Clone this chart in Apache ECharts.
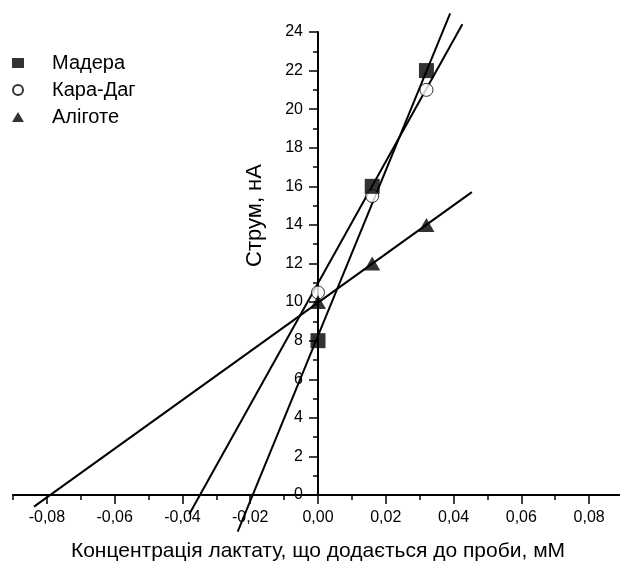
<!DOCTYPE html>
<html>
<head>
<meta charset="utf-8">
<script src="https://cdn.jsdelivr.net/npm/echarts@6/dist/echarts.min.js"></script>
<style>
  html, body { margin: 0; padding: 0; background: #fff; }
  #chart { width: 620px; height: 562px; }
</style>
</head>
<body>
<div id="chart"></div>
<script>
// концентрація добавки, мМ
const conc = [0, 0.016, 0.032];
// струм, нА
const madera = [8, 16, 22];
const karaDag = [10.5, 15.5, 21];
const aligote = [10, 12, 14];
// кінці прямих [x, y]
const maderaFit = [[-0.0237, -1.9], [0.039, 24.96]];
const karaDagFit = [[-0.038, -1.0], [0.0426, 24.4]];
const aligoteFit = [[-0.0838, -0.6], [0.0454, 15.7]];
// підписи осей
const xTicks = [-0.08, -0.06, -0.04, -0.02, 0, 0.02, 0.04, 0.06, 0.08];
const yTicks = [0, 2, 4, 6, 8, 10, 12, 14, 16, 18, 20, 22, 24];

const font = 'Liberation Sans, Arial, sans-serif';
const pts = vals => conc.map((c, i) => [c, vals[i]]);

const gridLeft = 13;
const gridWidth = 610;
// вісь Y стоїть на x = 0
const yAxisShift = -gridWidth / 2;

const fitLine = (name, data) => ({
  name: name,
  type: 'line',
  data: data,
  clip: false,
  showSymbol: false,
  silent: true,
  z: 2,
  lineStyle: { color: '#000', width: 2 }
});

let myChart = echarts.init(document.getElementById('chart'));
let options = {
  backgroundColor: '#fff',
  animation: false,
  grid: { left: gridLeft, width: gridWidth, top: 32, bottom: 67, containLabel: false, outerBoundsMode: 'none' },
  legend: {
    orient: 'vertical',
    left: 7,
    top: 48,
    itemWidth: 12,
    itemHeight: 10,
    itemGap: 7,
    data: ['Мадера', 'Кара-Даг', 'Аліготе'],
    textStyle: { fontFamily: font, fontSize: 20, color: '#000', padding: [0, 0, 0, 23] }
  },
  xAxis: [
    {
      type: 'value',
      min: -0.09,
      max: 0.09,
      interval: 0.01,
      splitLine: { show: false },
      axisLine: { onZero: false, lineStyle: { color: '#000', width: 2 } },
      axisTick: { length: 5, lineStyle: { color: '#000', width: 1.5 } },
      axisLabel: { show: false }
    },
    {
      type: 'value',
      position: 'bottom',
      min: -0.09,
      max: 0.09,
      splitLine: { show: false },
      axisLine: { show: false, onZero: false },
      axisTick: { customValues: xTicks, length: 9, lineStyle: { color: '#000', width: 1.5 } },
      axisLabel: {
        customValues: xTicks,
        margin: 15,
        fontFamily: font,
        fontSize: 16,
        color: '#000',
        formatter: v => v.toFixed(2).replace('.', ',').replace('-0,00', '0,00')
      },
      name: 'Концентрація лактату, що додається до проби, мМ',
      nameLocation: 'middle',
      nameGap: 46,
      nameTextStyle: { fontFamily: font, fontSize: 21, color: '#000' }
    }
  ],
  yAxis: {
    type: 'value',
    position: 'left',
    offset: yAxisShift,
    min: 0,
    max: 24,
    interval: 2,
    splitLine: { show: false },
    axisLine: { onZero: false, lineStyle: { color: '#000', width: 2 } },
    axisTick: { length: 9, lineStyle: { color: '#000', width: 1.5 } },
    minorTick: { show: true, splitNumber: 2, length: 5, lineStyle: { color: '#000', width: 1.5 } },
    axisLabel: {
      margin: 15,
      fontFamily: font,
      fontSize: 16,
      color: '#000',
      customValues: yTicks
    },
    name: 'Струм, нА',
    nameLocation: 'middle',
    nameGap: 52,
    nameTextStyle: { fontFamily: font, fontSize: 22, color: '#000', padding: [0, 0, 0, 96] }
  },
  series: [
    fitLine('fit-madera', maderaFit),
    fitLine('fit-kara', karaDagFit),
    fitLine('fit-aligote', aligoteFit),
    {
      name: 'Мадера',
      type: 'scatter',
      data: pts(madera),
      symbol: 'rect',
      symbolSize: 15,
      z: 5,
      itemStyle: { color: '#000' }
    },
    {
      name: 'Кара-Даг',
      type: 'scatter',
      data: pts(karaDag),
      symbol: 'circle',
      symbolSize: 13,
      z: 4,
      itemStyle: { color: '#fff', borderColor: '#000', borderWidth: 1 }
    },
    {
      name: 'Аліготе',
      type: 'scatter',
      data: pts(aligote),
      symbol: 'triangle',
      symbolSize: [16, 14],
      z: 5,
      itemStyle: { color: '#000' }
    }
  ]
};
myChart.setOption(options);
</script>
</body>
</html>
